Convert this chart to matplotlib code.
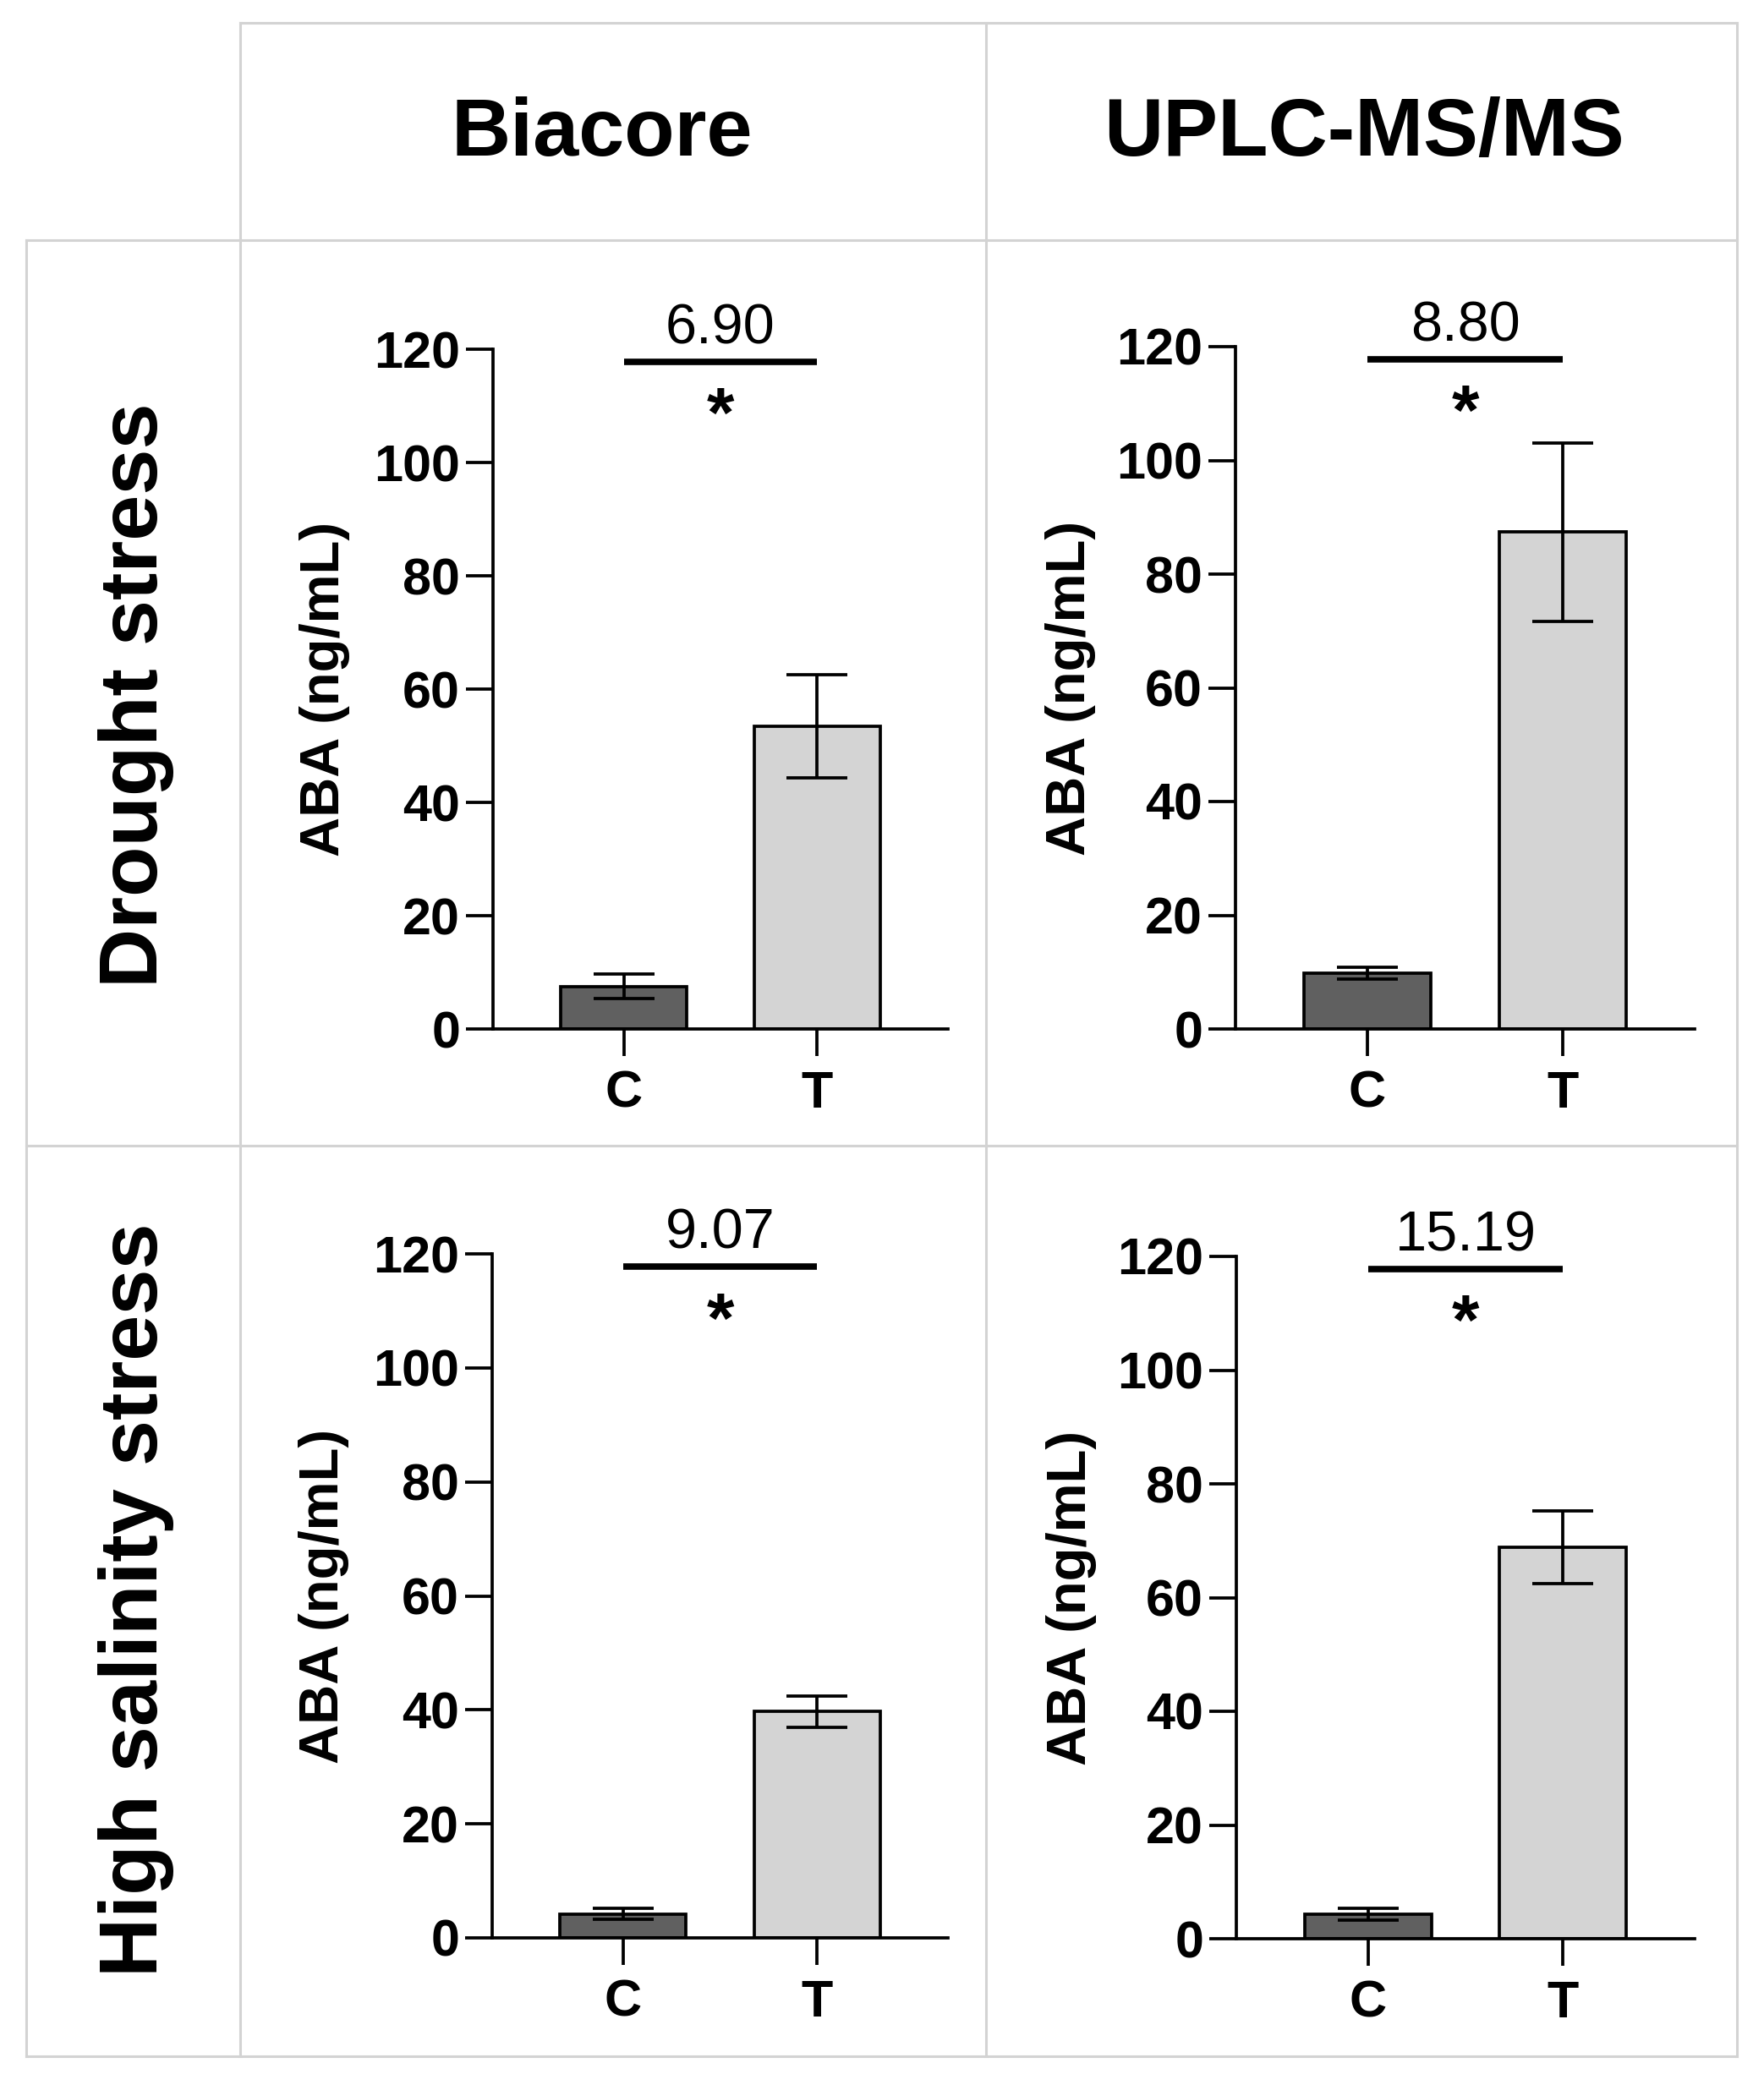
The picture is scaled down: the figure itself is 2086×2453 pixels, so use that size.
import matplotlib
matplotlib.use("Agg")
import matplotlib.pyplot as plt
from matplotlib.lines import Line2D

plt.rcParams['font.family'] = ['Liberation Sans', 'DejaVu Sans']

# ---------------- data ----------------
groups = ["C", "T"]
col_titles = ["Biacore", "UPLC-MS/MS"]
row_titles = ["Drought stress", "High salinity stress"]

biacore_drought_mean = [7.5, 53.5]
biacore_drought_err = [2.2, 9.1]
uplc_drought_mean = [9.8, 87.4]
uplc_drought_err = [1.1, 15.7]
biacore_salt_mean = [4.2, 39.7]
biacore_salt_err = [1.0, 2.7]
uplc_salt_mean = [4.3, 68.8]
uplc_salt_err = [1.1, 6.4]

fold_labels = ["6.90", "8.80", "9.07", "15.19"]
sig_marks = ["*", "*", "*", "*"]
yticks = [0, 20, 40, 60, 80, 100, 120]
ylabel = "ABA (ng/mL)"

panels = [
    (biacore_drought_mean, biacore_drought_err),
    (uplc_drought_mean, uplc_drought_err),
    (biacore_salt_mean, biacore_salt_err),
    (uplc_salt_mean, uplc_salt_err),
]

# ---------------- layout ----------------
W, H = 2086, 2453
fig = plt.figure(figsize=(W / 100, H / 100), dpi=100)

def fx(px):
    return px / W

def fy(py):
    return 1 - py / H

# axes boxes in pixel coords: left, y(0), right, y(120)
boxes = [
    (583, 1217, 1121, 413),
    (1461, 1217, 2004, 410),
    (582, 2292, 1121, 1483),
    (1462, 2293, 2004, 1486),
]
ylabel_x = [-0.37, -0.36, -0.37, -0.36]

bar_colors = ["#606060", "#d4d4d4"]
lw = 2.7

for i, ((means, errs), (l, b0, r, t120)) in enumerate(zip(panels, boxes)):
    ax = fig.add_axes([fx(l), fy(b0), fx(r) - fx(l), fy(t120) - fy(b0)])
    x = list(range(len(groups)))
    ax.bar(x, means, width=0.65, color=bar_colors, edgecolor="black",
           linewidth=lw, zorder=2)
    ax.errorbar(x, means, yerr=errs, fmt="none", ecolor="black",
                elinewidth=lw, capsize=26, capthick=lw, zorder=3)
    ax.set_xlim(-0.675, 1.675)
    ax.set_ylim(0, 120)
    ax.set_yticks(yticks)
    ax.set_xticks(x)
    ax.set_xticklabels(groups)
    for s in ["top", "right"]:
        ax.spines[s].set_visible(False)
    for s in ["left", "bottom"]:
        ax.spines[s].set_linewidth(lw)
    ax.tick_params(axis="both", direction="out", length=23, width=lw,
                   labelsize=44)
    ax.tick_params(axis="y", pad=5)
    ax.tick_params(axis="x", pad=12)
    for lab in ax.get_xticklabels() + ax.get_yticklabels():
        lab.set_fontweight("bold")
    ax.text(ylabel_x[i], 0.5, ylabel, rotation=90, ha="center", va="center",
            fontsize=47, fontweight="bold", transform=ax.transAxes)
    # significance bracket
    ax.plot([x[0], x[1]], [117.8, 117.8], color="black", lw=5.5,
            solid_capstyle="butt", clip_on=False, zorder=4)
    ax.text(0.5, 121, fold_labels[i], ha="center", va="baseline",
            fontsize=48, clip_on=False)
    ax.text(0.5, 104.5, sig_marks[i], ha="center", va="baseline",
            fontsize=60, fontweight="bold", clip_on=False)
    ax.patch.set_alpha(0)

# ---------------- table grid ----------------
gcol = "#d3d3d3"
glw = 2.2
def hline(y, x0, x1):
    fig.add_artist(Line2D([fx(x0), fx(x1)], [fy(y), fy(y)], color=gcol,
                          lw=glw, transform=fig.transFigure))
def vline(x, y0, y1):
    fig.add_artist(Line2D([fx(x), fx(x)], [fy(y0), fy(y1)], color=gcol,
                          lw=glw, transform=fig.transFigure))

hline(27, 284, 2054)
hline(284, 31, 2054)
hline(1355, 31, 2054)
hline(2432, 31, 2054)
vline(31, 284, 2432)
vline(284, 27, 2432)
vline(1166, 27, 2432)
vline(2054, 27, 2432)

# ---------------- headers ----------------
fig.text(fx(712), fy(184), col_titles[0], ha="center", va="baseline",
         fontsize=70, fontweight="bold")
fig.text(fx(1613), fy(184), col_titles[1], ha="center", va="baseline",
         fontsize=70, fontweight="bold")
fig.text(fx(161), fy(822), row_titles[0], rotation=90, ha="center",
         va="center", fontsize=70, fontweight="bold")
fig.text(fx(161), fy(1892), row_titles[1], rotation=90, ha="center",
         va="center", fontsize=70, fontweight="bold")

fig.savefig("out.png", dpi=100, facecolor="white")
